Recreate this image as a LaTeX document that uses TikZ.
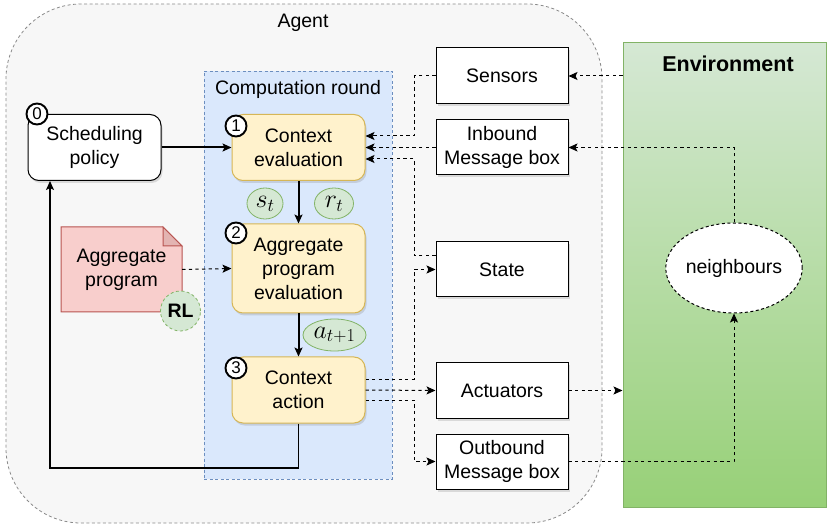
\RequirePackage{fix-cm}
\documentclass[tikz,border=0pt]{standalone}
\usepackage{fontspec}
\setmainfont{Liberation Sans}
\usetikzlibrary{arrows.meta,shapes.geometric,shadows}

\definecolor{agentfill}{HTML}{F7F7F7}
\definecolor{agentline}{HTML}{8A8A8A}
\definecolor{roundfill}{HTML}{DAE8FC}
\definecolor{roundline}{HTML}{6C8EBF}
\definecolor{ctxfill}{HTML}{FFF2CC}
\definecolor{ctxline}{HTML}{D6B656}
\definecolor{progfill}{HTML}{F8CECC}
\definecolor{progfold}{HTML}{E3B4B2}
\definecolor{progline}{HTML}{B85450}
\definecolor{rlfill}{HTML}{D5E8D4}
\definecolor{rlline}{HTML}{82B366}
\definecolor{envtop}{HTML}{D5E8D4}
\definecolor{envbot}{HTML}{97D077}

\begin{document}
\begin{tikzpicture}[x=1pt,y=-1pt,
    every node/.style={font=\fontsize{19.5}{24}\selectfont, align=center},
    box/.style={draw, line width=1pt, minimum width=132pt, minimum height=55pt, inner sep=0pt, fill=white,
        drop shadow={shadow xshift=1.5pt, shadow yshift=-2.5pt, opacity=.25}},
    roundbox/.style={box, rounded corners=11pt, minimum width=133pt, minimum height=66pt},
    stepbox/.style={roundbox, draw=ctxline, fill=ctxfill},
    badge/.style={circle, draw, line width=1.9pt, fill=white, inner sep=0pt, minimum size=21pt,
        font=\fontsize{17}{17}\selectfont},
    var/.style={ellipse, draw=rlline, fill=rlfill, line width=.8pt, inner sep=0pt, minimum height=31pt,
        font=\fontsize{26}{26}\selectfont},
    flow/.style={-{Stealth[length=9pt,width=8pt,inset=2pt]}, line width=2pt},
    link/.style={-{Stealth[length=9pt,width=8pt,inset=2pt]}, line width=1pt, dash pattern=on 3.3pt off 3.3pt},
]
    \useasboundingbox (0,0) rectangle (827,526);

    % containers
    \node[draw=agentline, fill=agentfill, dash pattern=on 3pt off 2.5pt, line width=.8pt, rounded corners=75pt,
        minimum width=596pt, minimum height=519pt] (agent) at (304,263.5) {};
    \node (agenttitle) at (303,23) {Agent};
    \node[draw=roundline, fill=roundfill, dash pattern=on 3pt off 2.5pt, line width=.8pt,
        minimum width=188pt, minimum height=408pt] (round) at (298,275) {};
    \node (roundtitle) at (298,89) {Computation round};
    \node[draw=rlline, top color=envtop, bottom color=envbot, line width=1pt,
        minimum width=203pt, minimum height=464pt] (env) at (724.5,275) {};
    \node[font=\fontsize{21.5}{24}\selectfont\bfseries] (envtitle) at (728,64) {Environment};

    % steps
    \node[roundbox] (sched) at (94.5,147.5) {Scheduling\\policy};
    \node[stepbox] (ctxeval) at (298.5,147.5) {Context\\evaluation};
    \node[stepbox, minimum height=89pt] (aggeval) at (298.5,268.5) {Aggregate\\program\\evaluation};
    \node[stepbox] (ctxact) at (298.5,390) {Context\\action};

    % aggregate program note
    \filldraw[fill=progfill, draw=progline, line width=1pt]
        (61,227) -- (163,227) -- (182,246) -- (182,312) -- (61,312) -- cycle;
    \filldraw[fill=progfold, draw=progline, line width=1pt] (163,227) -- (163,246) -- (182,246) -- cycle;
    \node[minimum width=121pt, minimum height=85pt] (aggprog) at (121.5,269.5) {Aggregate\\program};
    \node[circle, draw=rlline, fill=rlfill, dash pattern=on 3pt off 2.5pt, line width=.8pt, minimum size=40pt,
        inner sep=0pt, font=\fontsize{19.5}{24}\selectfont\bfseries] (rl) at (180.5,311) {RL};

    % devices
    \node[box, minimum height=56pt] (sens) at (502,76) {Sensors};
    \node[box] (inbox) at (502,147.5) {Inbound\\Message box};
    \node[box] (state) at (502,269.5) {State};
    \node[box] (act) at (502,390.5) {Actuators};
    \node[box] (outbox) at (502,461.5) {Outbound\\Message box};
    \node[ellipse, draw, fill=white, dash pattern=on 3pt off 2.5pt, line width=1pt,
        minimum width=132pt, minimum height=90pt, inner sep=0pt] (neigh) at (734,268) {neighbours};

    % badges
    \foreach \k/\x/\y in {0/37/114, 1/236/126, 2/236/233, 3/236/368}{
        \node[badge] (n\k) at (\x,\y) {\k};
    }

    % observed values
    \node[var, minimum width=36pt] (st) at (265,203.5) {$s_t$};
    \node[var, minimum width=39pt] (rt) at (334,203.5) {$r_t$};
    \node[var, minimum width=63pt, minimum height=32pt] (at) at (334.5,335) {$a_{t+1}$};

    % ports
    \coordinate (bus) at (414,0);
    \coordinate (ce1) at ([yshift=11.5pt]ctxeval.east);
    \coordinate (ce3) at ([yshift=-11.5pt]ctxeval.east);
    \coordinate (st1) at ([yshift=14pt]state.west);
    \coordinate (ca1) at ([yshift=11pt]ctxact.east);
    \coordinate (ca3) at ([yshift=-10pt]ctxact.east);
    \coordinate (back) at (50,468);
    \coordinate (sp0) at (back |- sched.south);

    % control flow
    \draw[flow] (sched.east) -- (ctxeval.west);
    \draw[flow] (ctxeval.south) -- (aggeval.north);
    \draw[flow] (aggeval.south) -- (ctxact.north);
    \draw[flow, line width=1.3pt] (ctxact.south) |- (back) -- (sp0);
    \draw[link] (aggprog.east) -- (aggeval.west);

    % data links
    \draw[link] (sens.west) -- (bus |- sens.west) |- (ce1);
    \draw[link] (inbox.west) -- (ctxeval.east);
    \draw[link] (st1) -- (bus |- st1) |- (ce3);
    \draw[link] (ca1) -- (bus |- ca1) |- (state.west);
    \draw[link] (ctxact.east) -- (act.west);
    \draw[link] (ca3) -- (bus |- ca3) |- (outbox.west);
    \draw[link] (env.west |- sens.east) -- (sens.east);
    \draw[link] (neigh.north) |- (inbox.east);
    \draw[link] (act.east) -- (env.west |- act.east);
    \draw[link] (outbox.east) -| (neigh.south);
\end{tikzpicture}
\end{document}
